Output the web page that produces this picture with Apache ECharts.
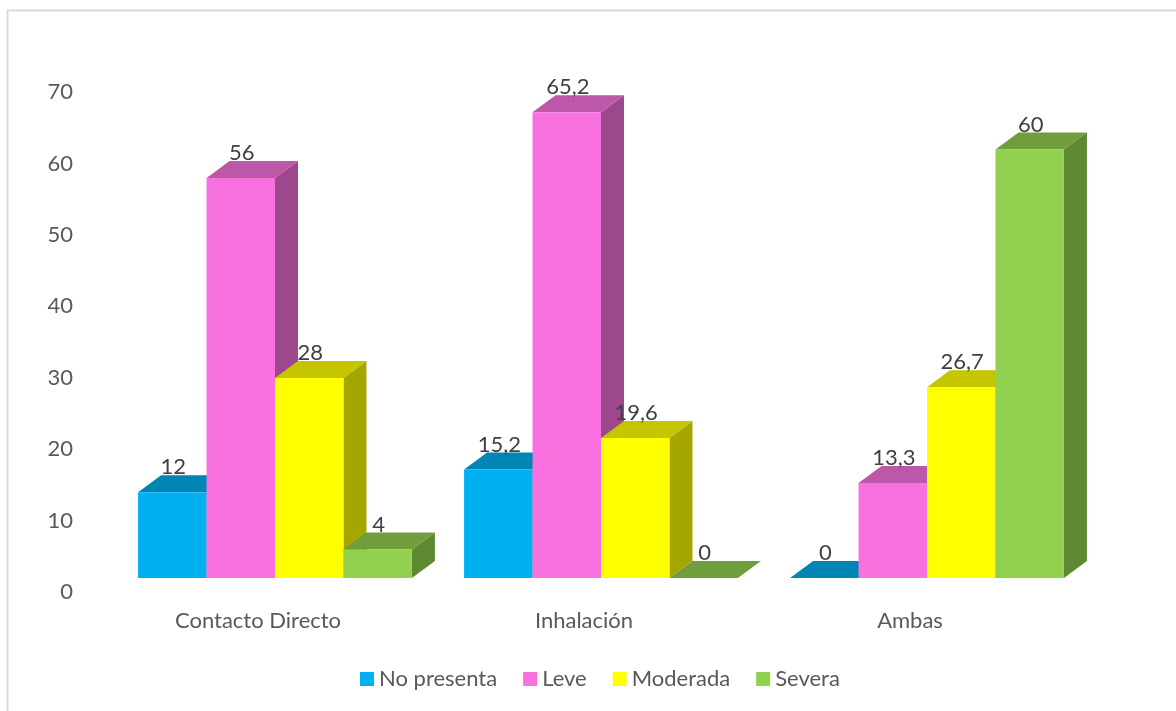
<!DOCTYPE html>
<html>
<head>
<meta charset="utf-8">
<script src="https://cdn.jsdelivr.net/npm/echarts@6/dist/echarts.min.js"></script>
<style>
  html, body { margin: 0; padding: 0; background: #ffffff; }
  #chart { width: 1176px; height: 711px; }
</style>
</head>
<body>
<div id="chart"></div>
<script>
// Data
const categories = ['Contacto Directo', 'Inhalación', 'Ambas'];
const seriesNames = ['No presenta', 'Leve', 'Moderada', 'Severa'];
const noPresenta = [12, 15.2, 0];
const leve = [56, 65.2, 13.3];
const moderada = [28, 19.6, 26.7];
const severa = [4, 0, 60];
const yMin = 0, yMax = 70, yStep = 10;

const seriesValues = [noPresenta, leve, moderada, severa];

// Shading for the three visible faces of each column
const faces = [
  { front: '#00B0F0', top: '#0086B5', side: '#0079A4' },
  { front: '#F871DF', top: '#BD58A9', side: '#9C488C' },
  { front: '#FFFF00', top: '#C5C500', side: '#A6A600' },
  { front: '#92D050', top: '#709E3D', side: '#5F8833' }
];

const FONT = 'Lato';
const FONT_SIZE = 22;
const DEPTH_X = 23, DEPTH_Y = -17;   // oblique depth of the columns
const BAR_SHARE = 0.21;               // each column's share of a category band

function fmt(v) { return String(v).replace('.', ','); }

function makeRender(s) {
  return function (params, api) {
    const idx = api.value(0);
    const val = api.value(1);
    const base = api.coord([idx, 0]);
    const topPt = api.coord([idx, val]);
    const band = api.size([1, 0])[0];
    const bw = band * BAR_SHARE;
    const x0 = base[0] - 2 * bw + s * bw;
    const x1 = x0 + bw;
    const yb = base[1];
    const yt = topPt[1];
    const f = faces[s];
    const children = [];
    if (yb - yt > 0.5) {
      children.push({
        type: 'polygon',
        shape: { points: [[x1, yt], [x1 + DEPTH_X, yt + DEPTH_Y], [x1 + DEPTH_X, yb + DEPTH_Y], [x1, yb]] },
        style: { fill: f.side }
      });
    }
    children.push({
      type: 'polygon',
      shape: { points: [[x0, yt], [x1, yt], [x1 + DEPTH_X, yt + DEPTH_Y], [x0 + DEPTH_X, yt + DEPTH_Y]] },
      style: { fill: f.top }
    });
    if (yb - yt > 0.5) {
      children.push({
        type: 'rect',
        shape: { x: x0, y: yt, width: bw, height: yb - yt },
        style: { fill: f.front }
      });
    }
    children.push({
      type: 'text',
      style: {
        text: fmt(val),
        x: (x0 + x1) / 2 + 1,
        y: yt + DEPTH_Y + 3,
        align: 'center',
        verticalAlign: 'bottom',
        fill: '#404040',
        font: FONT_SIZE + 'px ' + FONT
      }
    });
    return { type: 'group', children: children };
  };
}

const series = seriesNames.map(function (name, s) {
  return {
    name: name,
    type: 'custom',
    renderItem: makeRender(s),
    itemStyle: { color: faces[s].front },
    encode: { x: 0, y: 1 },
    data: categories.map(function (c, i) { return [i, seriesValues[s][i]]; }),
    z: 2
  };
});

const chart = echarts.init(document.getElementById('chart'), null, { renderer: 'canvas' });
chart.setOption({
  backgroundColor: '#ffffff',
  animation: false,
  textStyle: { fontFamily: FONT },
  graphic: [{
    type: 'rect',
    shape: { x: 7.5, y: 10.5, width: 1300, height: 900 },
    style: { fill: 'none', stroke: '#D9D9D9', lineWidth: 2 },
    silent: true
  }],
  grid: { left: 112, right: 86, top: 78, bottom: 133 },
  xAxis: {
    type: 'category',
    data: categories,
    axisLine: { show: false },
    axisTick: { show: false },
    splitLine: { show: false },
    axisLabel: { margin: 32, color: '#595959', fontSize: FONT_SIZE, fontFamily: FONT, padding: [0, 34, 0, 0] }
  },
  yAxis: {
    type: 'value',
    min: yMin,
    max: yMax,
    interval: yStep,
    axisLine: { show: false },
    axisTick: { show: false },
    splitLine: { show: false },
    axisLabel: {
      margin: 39, color: '#595959', fontSize: FONT_SIZE, fontFamily: FONT,
      verticalAlign: 'top', lineHeight: 28
    }
  },
  legend: {
    data: seriesNames,
    left: 360,
    top: 668,
    padding: 0,
    icon: 'rect',
    itemWidth: 14,
    itemHeight: 14,
    itemGap: 26,
    textStyle: { color: '#595959', fontSize: FONT_SIZE, fontFamily: FONT }
  },
  series: series
});
</script>
</body>
</html>
